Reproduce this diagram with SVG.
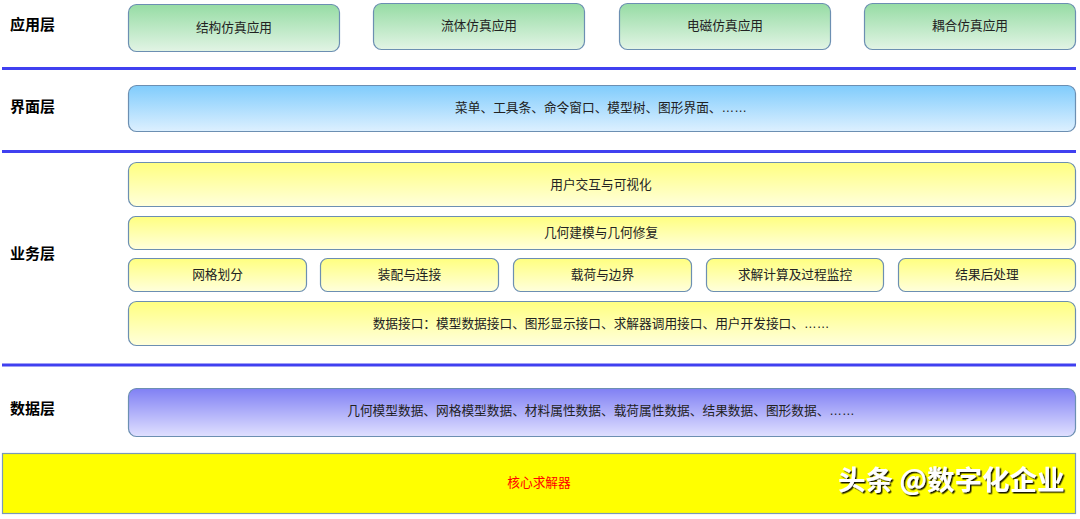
<svg xmlns="http://www.w3.org/2000/svg" width="1080" height="519" viewBox="0 0 1080 519">
<defs>
<linearGradient id="gGreen" x1="0" y1="0" x2="0" y2="1"><stop offset="0" stop-color="#96dca4"/><stop offset="1" stop-color="#e2f4e5"/></linearGradient>
<linearGradient id="gBlue" x1="0" y1="0" x2="0" y2="1"><stop offset="0" stop-color="#80ccfc"/><stop offset="1" stop-color="#ddf0ff"/></linearGradient>
<linearGradient id="gYellow" x1="0" y1="0" x2="0" y2="1"><stop offset="0" stop-color="#ffff80"/><stop offset="1" stop-color="#ffffdc"/></linearGradient>
<linearGradient id="gPurple" x1="0" y1="0" x2="0" y2="1"><stop offset="0" stop-color="#8080f4"/><stop offset="1" stop-color="#e0e0ff"/></linearGradient>
<filter id="shadow" x="-5%" y="-20%" width="115%" height="150%"><feDropShadow dx="1.5" dy="1.5" stdDeviation="0.6" flood-color="#000" flood-opacity="0.9"/></filter>
</defs>
<style>
.box{stroke:#6c8fb2;stroke-width:1.2}
.t{font-family:"Liberation Sans","Noto Sans CJK SC",sans-serif;font-size:12.7px;fill:#222;text-anchor:middle;dominant-baseline:central}
.lbl{font-family:"Liberation Sans","Noto Sans CJK SC",sans-serif;font-size:15px;font-weight:bold;fill:#000;dominant-baseline:central}
.sep{stroke:#4040f0;stroke-width:3}
</style>
<rect width="1080" height="519" fill="#fff"/>
<g id="separators">
<line class="sep" x1="2" y1="68.5" x2="1076" y2="68.5"/>
<line class="sep" x1="2" y1="151.5" x2="1076" y2="151.5"/>
<line class="sep" x1="2" y1="365" x2="1076" y2="365"/>
</g>
<g id="labels">
<text class="lbl" x="10" y="24">应用层</text>
<text class="lbl" x="10" y="106">界面层</text>
<text class="lbl" x="10" y="253">业务层</text>
<text class="lbl" x="10" y="408">数据层</text>
</g>
<g id="app1"><rect class="box" x="128.5" y="4.5" width="211" height="47" rx="8" fill="url(#gGreen)"/><text class="t" x="234" y="28">结构仿真应用</text></g>
<g id="app2"><rect class="box" x="373.5" y="3.5" width="211" height="46" rx="8" fill="url(#gGreen)"/><text class="t" x="479" y="26">流体仿真应用</text></g>
<g id="app3"><rect class="box" x="619.5" y="3.5" width="211" height="46" rx="8" fill="url(#gGreen)"/><text class="t" x="725" y="26">电磁仿真应用</text></g>
<g id="app4"><rect class="box" x="864.5" y="3.5" width="211" height="46" rx="8" fill="url(#gGreen)"/><text class="t" x="970" y="26">耦合仿真应用</text></g>
<g id="ui"><rect class="box" x="128.5" y="85.5" width="947" height="46" rx="8" fill="url(#gBlue)"/><text class="t" x="601" y="108">菜单、工具条、命令窗口、模型树、图形界面、……</text></g>
<g id="interaction"><rect class="box" x="128.5" y="162.5" width="947" height="44" rx="8" fill="url(#gYellow)"/><text class="t" x="601" y="184.5">用户交互与可视化</text></g>
<g id="geometry"><rect class="box" x="128.5" y="216.5" width="947" height="33" rx="7" fill="url(#gYellow)"/><text class="t" x="601" y="233">几何建模与几何修复</text></g>
<g id="mesh"><rect class="box" x="128.5" y="258.5" width="178" height="33" rx="7" fill="url(#gYellow)"/><text class="t" x="217.5" y="275">网格划分</text></g>
<g id="assembly"><rect class="box" x="320.5" y="258.5" width="178" height="33" rx="7" fill="url(#gYellow)"/><text class="t" x="409.5" y="275">装配与连接</text></g>
<g id="loads"><rect class="box" x="513.5" y="258.5" width="178" height="33" rx="7" fill="url(#gYellow)"/><text class="t" x="602.5" y="275">载荷与边界</text></g>
<g id="solve"><rect class="box" x="706.5" y="258.5" width="177" height="33" rx="7" fill="url(#gYellow)"/><text class="t" x="795" y="275">求解计算及过程监控</text></g>
<g id="post"><rect class="box" x="898.5" y="258.5" width="177" height="33" rx="7" fill="url(#gYellow)"/><text class="t" x="987" y="275">结果后处理</text></g>
<g id="dataif"><rect class="box" x="128.5" y="301.5" width="947" height="44" rx="8" fill="url(#gYellow)"/><text class="t" x="601" y="323.5">数据接口：模型数据接口、图形显示接口、求解器调用接口、用户开发接口、……</text></g>
<g id="data"><rect class="box" x="128.5" y="388.5" width="947" height="48" rx="8" fill="url(#gPurple)"/><text class="t" x="601" y="411">几何模型数据、网格模型数据、材料属性数据、载荷属性数据、结果数据、图形数据、……</text></g>
<g id="core"><rect x="2.5" y="453.5" width="1073" height="60" fill="#ffff00" stroke="#7a9ab8" stroke-width="1.2"/><text class="t" x="539" y="483" style="fill:#ff0000">核心求解器</text></g>
<g id="watermark"><text x="838" y="490" font-family="'Noto Sans CJK SC',sans-serif" font-size="27.5" font-weight="bold" fill="#fff" filter="url(#shadow)">头条 @数字化企业</text></g>
</svg>
